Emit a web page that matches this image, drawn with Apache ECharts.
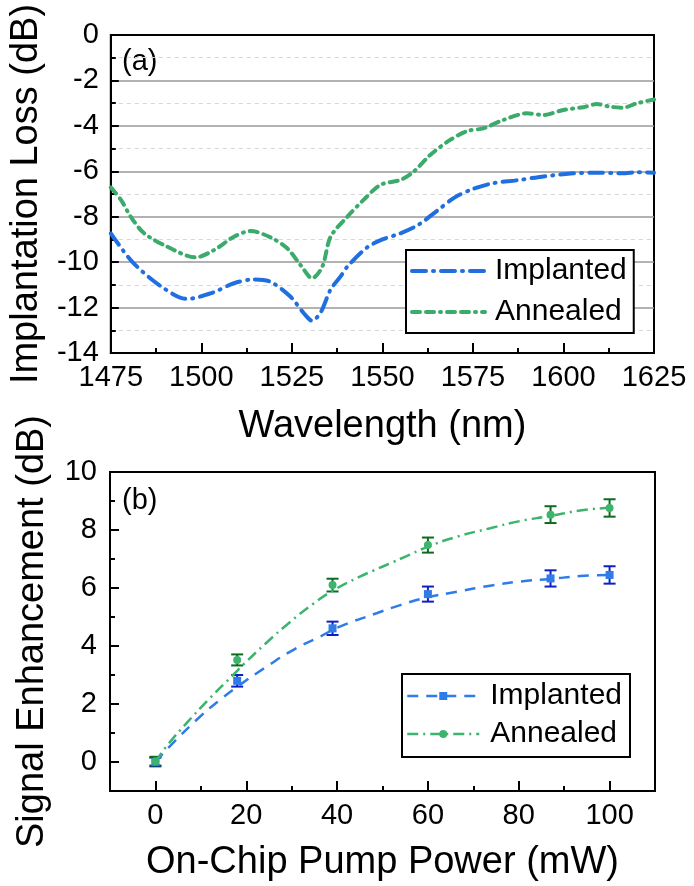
<!DOCTYPE html>
<html>
<head>
<meta charset="utf-8">
<script src="https://cdn.jsdelivr.net/npm/echarts@6/dist/echarts.min.js"></script>
<style>
  html, body { margin: 0; padding: 0; background: #fff; }
  #chart { width: 694px; height: 886px; }
</style>
</head>
<body>
<div id="chart"></div>
<script>
// (a) implantation loss spectra
const wavelengthImplanted = [1475, 1481, 1489, 1496, 1503, 1509, 1514.5, 1519, 1524.5, 1528.3, 1530.6, 1533, 1535.7, 1538.4, 1540.3, 1545.8, 1550, 1555, 1560, 1565, 1570, 1575, 1580.7, 1587, 1593, 1602, 1609, 1616.5, 1620, 1625];
const lossImplanted = [-8.73, -10.0, -11.08, -11.62, -11.35, -10.93, -10.76, -10.86, -11.5, -12.25, -12.58, -12.2, -11.2, -10.64, -10.2, -9.35, -9.0, -8.73, -8.35, -7.75, -7.15, -6.78, -6.52, -6.40, -6.26, -6.10, -6.06, -6.09, -6.04, -6.06];

const wavelengthAnnealed = [1475, 1477.8, 1480.5, 1484.2, 1490.6, 1498.4, 1503.5, 1509, 1513.6, 1519.1, 1523.7, 1527.4, 1530.6, 1533.4, 1535.7, 1540.3, 1544.8, 1549.4, 1555, 1558.6, 1563.2, 1568.7, 1573.4, 1577.9, 1583.4, 1589.9, 1594.5, 1600, 1605.5, 1609.2, 1612.9, 1616.5, 1620.2, 1625];
const lossAnnealed = [-6.71, -7.26, -8.0, -8.73, -9.32, -9.79, -9.47, -8.88, -8.63, -8.91, -9.39, -10.13, -10.71, -10.2, -8.88, -8.0, -7.26, -6.6, -6.38, -6.02, -5.28, -4.62, -4.23, -4.11, -3.74, -3.45, -3.52, -3.30, -3.18, -3.04, -3.16, -3.20, -3.01, -2.84];

// (b) signal enhancement vs pump power, with error bars
const pumpPower = [0, 18, 39, 60, 87, 100];
const gainImplanted = [0.0, 2.80, 4.61, 5.79, 6.33, 6.45];
const errImplanted = [0.15, 0.20, 0.23, 0.26, 0.28, 0.30];
const gainAnnealed = [0.03, 3.52, 6.10, 7.48, 8.53, 8.76];
const errAnnealed = [0.15, 0.19, 0.22, 0.26, 0.29, 0.30];

// fitted trend curves
const fitPowerImplanted = [0, 3.1, 9.8, 14.2, 18.6, 24.5, 30.3, 36.2, 40.6, 48.7, 53.9, 59.9, 66.4, 73.7, 81.8, 86.8, 93.5, 100];
const fitImplanted = [0, 0.53, 1.56, 2.14, 2.66, 3.29, 3.86, 4.32, 4.67, 5.13, 5.41, 5.68, 5.87, 6.08, 6.25, 6.31, 6.41, 6.45];
const fitPowerAnnealed = [0, 2.4, 6.8, 12, 17.1, 19.3, 24.5, 29.6, 34.7, 39.2, 45, 48, 52.4, 55.3, 59.9, 66.4, 73.7, 80.3, 86.8, 93.5, 100];
const fitAnnealed = [0, 0.53, 1.33, 2.2, 3.0, 3.35, 4.12, 4.82, 5.45, 5.92, 6.39, 6.6, 6.9, 7.1, 7.42, 7.77, 8.06, 8.31, 8.48, 8.67, 8.77];

// axis ticks
const wavelengthTicks = [1475, 1625, 25];
const lossTicks = [-14, 0, 2];
const powerMajorTicks = [0, 20, 40, 60, 80, 100];
const powerMinorTicks = [10, 30, 50, 70, 90];
const gainMajorTicks = [0, 2, 4, 6, 8, 10];
const gainMinorTicks = [1, 3, 5, 7, 9];

const FONT = "'Liberation Sans', Arial, sans-serif";
const BLUE = '#1f6fe0';
const GREEN = '#3aab6b';
const BLUE_B = '#2f7ce8';
const GREEN_B = '#3db46e';
const BLUE_ERR = '#1020c0';
const GREEN_ERR = '#0c6b1c';

const zip = (a, b) => a.map((v, i) => [v, b[i]]);
const zip3 = (a, b, c) => a.map((v, i) => [v, b[i], c[i]]);

function errorBars(color) {
  return function (params, api) {
    const x = api.value(0), y = api.value(1), e = api.value(2);
    const hi = api.coord([x, y + e]);
    const lo = api.coord([x, y - e]);
    const hw = 6;
    const st = { stroke: color, lineWidth: 2 };
    return {
      type: 'group',
      children: [
        { type: 'line', shape: { x1: hi[0], y1: hi[1], x2: lo[0], y2: lo[1] }, style: st },
        { type: 'line', shape: { x1: hi[0] - hw, y1: hi[1], x2: hi[0] + hw, y2: hi[1] }, style: st },
        { type: 'line', shape: { x1: lo[0] - hw, y1: lo[1], x2: lo[0] + hw, y2: lo[1] }, style: st }
      ]
    };
  };
}

const plain = (v) => String(v);
const labelStyle = { color: '#000', fontFamily: FONT, fontSize: 29, formatter: plain };
const nameStyle = { color: '#000', fontFamily: FONT, fontSize: 38 };
const blackLine = { show: true, onZero: false, lineStyle: { color: '#000', width: 2 } };

const chart = echarts.init(document.getElementById('chart'), null, { renderer: 'canvas' });

chart.setOption({
  backgroundColor: '#fff',
  animation: false,
  grid: [
    { left: 110, top: 35, width: 544, height: 318, show: true, borderColor: '#000', borderWidth: 2, backgroundColor: 'transparent' },
    { left: 110, top: 472, width: 545, height: 319, show: true, borderColor: '#000', borderWidth: 2, backgroundColor: 'transparent' }
  ],
  xAxis: [
    {
      gridIndex: 0, type: 'value',
      min: wavelengthTicks[0], max: wavelengthTicks[1], interval: wavelengthTicks[2],
      name: 'Wavelength (nm)', nameLocation: 'middle', nameGap: 55, nameTextStyle: nameStyle,
      axisLine: blackLine,
      axisTick: { inside: true, length: 10, lineStyle: { color: '#000', width: 2 } },
      minorTick: { show: true, splitNumber: 2, length: 5, lineStyle: { color: '#000', width: 2 } },
      axisLabel: Object.assign({ margin: 10 }, labelStyle),
      splitLine: { show: false }
    },
    {
      gridIndex: 1, type: 'value', min: -10, max: 110,
      name: 'On-Chip Pump Power (mW)', nameLocation: 'middle', nameGap: 53, nameTextStyle: nameStyle,
      axisLine: blackLine,
      axisTick: { inside: true, length: 10, customValues: powerMajorTicks, lineStyle: { color: '#000', width: 2 } },
      axisLabel: Object.assign({ margin: 10, customValues: powerMajorTicks }, labelStyle),
      splitLine: { show: false }
    },
    {
      gridIndex: 1, type: 'value', min: -10, max: 110, position: 'bottom',
      axisLine: { show: false, onZero: false },
      axisTick: { inside: true, length: 5, customValues: powerMinorTicks, lineStyle: { color: '#000', width: 2 } },
      axisLabel: { show: false },
      splitLine: { show: false }
    }
  ],
  yAxis: [
    {
      gridIndex: 0, type: 'value',
      min: lossTicks[0], max: lossTicks[1], interval: lossTicks[2],
      name: 'Implantation Loss (dB)', nameLocation: 'middle', nameGap: 58, nameTextStyle: nameStyle,
      axisLine: blackLine,
      axisTick: { inside: true, length: 8, lineStyle: { color: '#000', width: 2 } },
      minorTick: { show: true, splitNumber: 2, length: 5, lineStyle: { color: '#000', width: 2 } },
      axisLabel: Object.assign({ margin: 12 }, labelStyle),
      splitLine: { show: true, showMinLine: false, showMaxLine: false, lineStyle: { color: '#999', width: 1.5 } },
      minorSplitLine: { show: true, lineStyle: { color: '#d6d6d6', width: 1, type: [4, 4] } }
    },
    {
      gridIndex: 1, type: 'value', min: -1, max: 10,
      name: 'Signal Enhancement (dB)', nameLocation: 'middle', nameGap: 58, nameTextStyle: nameStyle,
      axisLine: blackLine,
      axisTick: { inside: true, length: 9, customValues: gainMajorTicks, lineStyle: { color: '#000', width: 2 } },
      axisLabel: Object.assign({ margin: 13, customValues: gainMajorTicks }, labelStyle),
      splitLine: { show: false }
    },
    {
      gridIndex: 1, type: 'value', min: -1, max: 10, position: 'left',
      axisLine: { show: false, onZero: false },
      axisTick: { inside: true, length: 5, customValues: gainMinorTicks, lineStyle: { color: '#000', width: 2 } },
      axisLabel: { show: false },
      splitLine: { show: false }
    }
  ],
  legend: [
    {
      data: [
        { name: 'Implanted', itemStyle: { opacity: 0 } },
        { name: 'Annealed', itemStyle: { opacity: 0 } }
      ],
      orient: 'vertical', left: 406, top: 250,
      padding: [6, 7, 6, 4],
      itemWidth: 73, itemHeight: 14, itemGap: 11,
      borderColor: '#000', borderWidth: 2, backgroundColor: '#fff',
      selectedMode: false,
      lineStyle: { width: 4, cap: 'round' },
      textStyle: { color: '#000', fontFamily: FONT, fontSize: 30, lineHeight: 30, padding: [0, 0, 0, 5] }
    },
    {
      data: ['Implanted fit', 'Annealed fit'],
      formatter: (n) => n.replace(' fit', ''),
      orient: 'vertical', left: 402, top: 674,
      padding: [7, 8, 8, 4],
      itemWidth: 72, itemHeight: 10, itemGap: 8,
      borderColor: '#000', borderWidth: 2, backgroundColor: '#fff',
      selectedMode: false,
      lineStyle: { width: 2.5 },
      textStyle: { color: '#000', fontFamily: FONT, fontSize: 30, lineHeight: 30, padding: [0, 0, 0, 6] }
    }
  ],
  graphic: [
    { type: 'text', left: 122, top: 47, style: { text: '(a)', fill: '#000', font: '29px ' + FONT } },
    { type: 'text', left: 122, top: 486, style: { text: '(b)', fill: '#000', font: '29px ' + FONT } }
  ],
  series: [
    {
      name: 'Implanted', type: 'line', xAxisIndex: 0, yAxisIndex: 0,
      data: zip(wavelengthImplanted, lossImplanted), smooth: 0.3, symbol: 'none',
      lineStyle: { color: BLUE, width: 4, type: [14, 7, 1, 7], cap: 'round' },
      itemStyle: { color: BLUE }
    },
    {
      name: 'Annealed', type: 'line', xAxisIndex: 0, yAxisIndex: 0,
      data: zip(wavelengthAnnealed, lossAnnealed), smooth: 0.3, symbol: 'none',
      lineStyle: { color: GREEN, width: 4, type: [8, 6, 8, 6, 1, 6], cap: 'round' },
      itemStyle: { color: GREEN }
    },
    {
      name: 'Implanted fit', type: 'line', xAxisIndex: 1, yAxisIndex: 1,
      data: zip(fitPowerImplanted, fitImplanted), smooth: true,
      symbol: 'rect', symbolSize: 8, showSymbol: false,
      lineStyle: { color: BLUE_B, width: 2.5, type: [11, 8] },
      itemStyle: { color: BLUE_B }
    },
    {
      name: 'Annealed fit', type: 'line', xAxisIndex: 1, yAxisIndex: 1,
      data: zip(fitPowerAnnealed, fitAnnealed), smooth: true,
      symbol: 'circle', symbolSize: 8, showSymbol: false,
      lineStyle: { color: GREEN_B, width: 2.5, type: [11, 5, 2, 5] },
      itemStyle: { color: GREEN_B }
    },
    {
      name: 'Implanted error', type: 'custom', xAxisIndex: 1, yAxisIndex: 1,
      data: zip3(pumpPower, gainImplanted, errImplanted),
      renderItem: errorBars(BLUE_ERR), z: 3
    },
    {
      name: 'Annealed error', type: 'custom', xAxisIndex: 1, yAxisIndex: 1,
      data: zip3(pumpPower, gainAnnealed, errAnnealed),
      renderItem: errorBars(GREEN_ERR), z: 3
    },
    {
      name: 'Implanted data', type: 'scatter', xAxisIndex: 1, yAxisIndex: 1,
      data: zip(pumpPower, gainImplanted), symbol: 'rect', symbolSize: 8,
      itemStyle: { color: BLUE_B, opacity: 1 }, z: 4
    },
    {
      name: 'Annealed data', type: 'scatter', xAxisIndex: 1, yAxisIndex: 1,
      data: zip(pumpPower, gainAnnealed), symbol: 'circle', symbolSize: 8,
      itemStyle: { color: GREEN_B, opacity: 1 }, z: 4
    }
  ]
});
</script>
</body>
</html>
